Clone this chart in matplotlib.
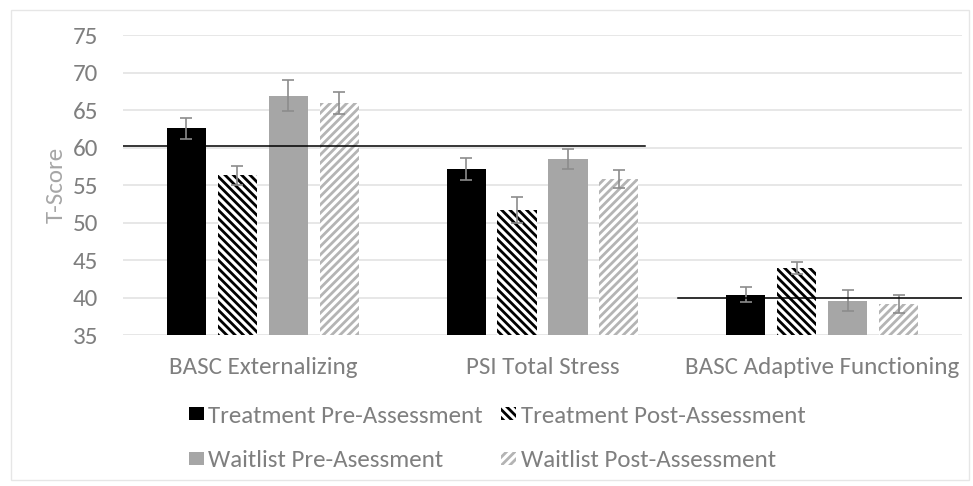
import matplotlib
matplotlib.use("Agg")
import matplotlib.pyplot as plt
import numpy as np
from matplotlib.patches import Rectangle
from matplotlib import font_manager

categories = ["BASC Externalizing", "PSI Total Stress", "BASC Adaptive Functioning"]
series_names = ["Treatment Pre-Assessment", "Treatment Post-Assessment",
                "Waitlist Pre-Asessment", "Waitlist Post-Assessment"]
treat_pre = [62.6, 57.1, 40.4]
treat_pre_err = [1.4, 1.45, 0.95]
treat_post = [56.3, 51.7, 44.0]
treat_post_err = [1.25, 1.75, 0.8]
wait_pre = [66.9, 58.5, 39.6]
wait_pre_err = [2.1, 1.35, 1.4]
wait_post = [65.9, 55.8, 39.1]
wait_post_err = [1.5, 1.25, 1.2]
ref_lines = [(60.15, -0.5, 1.366), (40.0, 1.484, 2.5)]
yticks = [35, 40, 45, 50, 55, 60, 65, 70, 75]

names = {f.name for f in font_manager.fontManager.ttflist}
fams = [f for f in ['Carlito', 'Liberation Sans Narrow', 'Open Sans'] if f in names] + ['DejaVu Sans']
narrow = fams[0] in ('Carlito', 'Liberation Sans Narrow')
plt.rcParams['font.family'] = fams
plt.rcParams['hatch.linewidth'] = 2.0

fig = plt.figure(figsize=(9.73, 4.86), dpi=100)
ax = fig.add_axes([123/973, 1-335/486, (962-123)/973, 300/486])

text_gray = '#7f7f7f'
styles = [
    dict(color='black', edgecolor='black', hatch=None),
    dict(color='white', edgecolor='black', hatch='\\\\\\\\'),
    dict(color='#a6a6a6', edgecolor='#a6a6a6', hatch=None),
    dict(color='white', edgecolor='#b4b4b4', hatch='////'),
]
data = [treat_pre, treat_post, wait_pre, wait_post]
errs = [treat_pre_err, treat_post_err, wait_pre_err, wait_post_err]
x = np.arange(len(categories))
width = 0.14
step = 0.182
handles = []
for i, (vals, e, st) in enumerate(zip(data, errs, styles)):
    pos = x + (i - 1.5) * step
    ax.bar(pos, np.array(vals) - 35, width, bottom=35, color=st['color'],
           edgecolor=st['edgecolor'], hatch=st['hatch'], linewidth=0, zorder=2)
    ax.errorbar(pos, vals, yerr=e, fmt='none', ecolor='#8c8c8c', elinewidth=1.2,
                capsize=4, capthick=1.2, zorder=3)
    handles.append(Rectangle((0, 0), 1, 1, facecolor=st['color'], edgecolor=st['edgecolor'],
                             hatch=st['hatch'], linewidth=0))

for yv, x0, x1 in ref_lines:
    ax.plot([x0, x1], [yv, yv], color='black', linewidth=1.1, zorder=4)

ax.set_xlim(-0.5, 2.5)
ax.set_ylim(35, 75)
ax.set_yticks(yticks)
ax.set_xticks(x)
ax.set_xticklabels(categories)
ax.yaxis.grid(True, color='#e3e3e3', linewidth=1.2, zorder=0)
ax.set_axisbelow(True)
for s in ax.spines.values():
    s.set_visible(False)
ax.tick_params(axis='both', length=0, colors=text_gray)
sc = 1.0 if narrow else 0.86
ax.tick_params(axis='x', pad=16, labelsize=18 * sc)
ax.tick_params(axis='y', pad=18, labelsize=18 * sc)
ax.set_ylabel('T-Score', color='#a6a6a6', fontsize=18 * sc, labelpad=4)

order = [0, 2, 1, 3]
leg = fig.legend([handles[i] for i in order], [series_names[i] for i in order],
                 ncol=2, loc='upper left',
                 bbox_to_anchor=(176/973, 1-393/486), frameon=False, borderpad=0,
                 fontsize=18 * sc, labelcolor=text_gray,
                 handlelength=0.6, handleheight=0.45,
                 handletextpad=0.2, columnspacing=0.7, labelspacing=0.95)

fig.patches.append(Rectangle((11/973, 6/486), 958/973, 1-16/486, transform=fig.transFigure,
                             fill=False, edgecolor='#e6e6e6', linewidth=1))

fig.savefig('out.png', dpi=100, facecolor='white')
